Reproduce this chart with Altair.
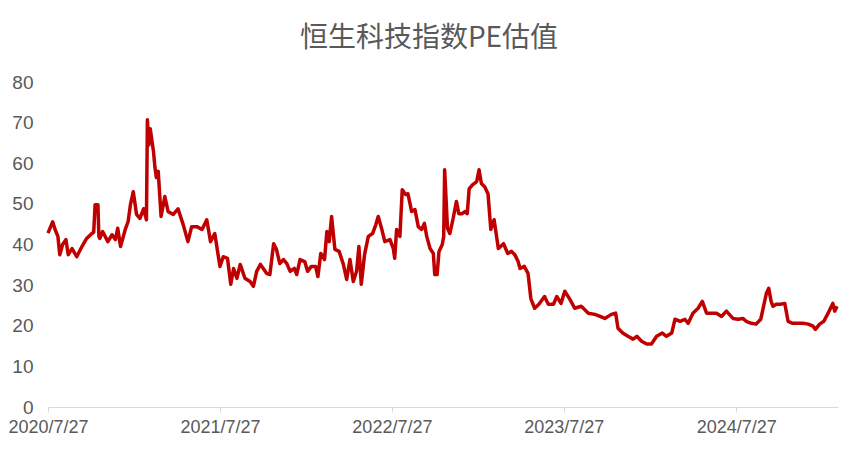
import altair as alt
import pandas as pd

title_text = "恒生科技指数PE估值"
start_date = "2020-07-27"
end_date = "2025-02-28"
tick_years = [2020, 2021, 2022, 2023, 2024]
y_ticks = [0, 10, 20, 30, 40, 50, 60, 70, 80]

# days after 2020-07-27
day_offsets = [
    0, 10, 15, 21, 25, 31, 38, 43, 51, 61,
    72, 82, 93, 97, 100, 106, 108, 110, 116, 127,
    136, 143, 148, 154, 164, 170, 175, 181, 188, 195,
    203, 209, 211, 214, 217, 224, 227, 230, 234, 240,
    248, 255, 266, 276, 287, 297, 305, 316, 327, 337,
    345, 354, 365, 372, 381, 388, 394, 401, 408, 418,
    429, 436, 443, 451, 464, 471, 479, 485, 492, 500,
    507, 514, 523, 528, 535, 545, 551, 559, 568, 573,
    579, 587, 592, 597, 602, 609, 618, 627, 634, 641,
    648, 655, 660, 665, 672, 680, 689, 696, 701, 708,
    715, 726, 733, 736, 740, 747, 752, 759, 764, 772,
    779, 786, 793, 799, 804, 811, 818, 821, 826, 830,
    837, 840, 842, 848, 853, 860, 867, 872, 879, 885,
    890, 894, 901, 910, 915, 920, 927, 934, 940, 947,
    956, 967, 976, 984, 991, 998, 1002, 1011, 1019, 1025,
    1033, 1042, 1054, 1062, 1073, 1080, 1089, 1097, 1108, 1118,
    1132, 1147, 1161, 1172, 1182, 1196, 1205, 1210, 1220, 1231,
    1242, 1250, 1260, 1271, 1281, 1292, 1304, 1313, 1324, 1331,
    1342, 1352, 1359, 1369, 1380, 1389, 1398, 1408, 1419, 1430,
    1440, 1454, 1465, 1475, 1482, 1493, 1503, 1513, 1520, 1525,
    1530, 1535, 1539, 1546, 1555, 1564, 1571, 1581, 1592, 1603,
    1614, 1624, 1629, 1638, 1647, 1656, 1661, 1666, 1670, 1675,
]

pe_values = [
    42.8, 45.6, 43.7, 42.0, 37.5, 40.0, 41.2, 37.5, 39.0, 37.0,
    39.5, 41.5, 42.7, 43.0, 49.8, 49.8, 42.0, 41.5, 43.2, 40.7,
    42.4, 41.2, 44.0, 39.5, 43.7, 45.6, 49.8, 53.0, 47.4, 46.4,
    48.8, 46.1, 70.7, 64.5, 68.5, 62.8, 59.0, 56.5, 58.0, 46.9,
    51.8, 48.1, 47.4, 48.8, 44.9, 40.7, 44.4, 44.4, 43.7, 46.1,
    40.7, 42.7, 34.6, 37.0, 36.6, 30.2, 34.1, 31.7, 35.1, 31.7,
    30.9, 29.7, 33.4, 35.1, 32.9, 32.6, 40.2, 38.8, 35.3, 36.3,
    35.3, 33.4, 34.1, 32.6, 36.3, 35.8, 33.4, 34.6, 34.6, 32.1,
    37.8, 36.3, 43.2, 40.7, 46.9, 38.8, 38.3, 35.1, 31.4, 36.3,
    30.9, 33.4, 39.5, 30.2, 37.5, 42.0, 42.7, 44.9, 46.9, 44.0,
    40.7, 41.2, 39.0, 36.6, 43.7, 42.0, 53.5, 52.3, 52.5, 48.1,
    48.6, 44.4, 43.7, 45.2, 42.0, 39.0, 37.8, 32.6, 32.6, 38.3,
    40.0, 42.0, 58.4, 44.0, 42.7, 46.4, 50.6, 47.6, 47.6, 48.1,
    47.6, 53.7, 54.7, 55.5, 58.4, 55.0, 54.2, 52.5, 43.7, 46.1,
    39.0, 40.2, 37.8, 38.3, 37.5, 35.8, 34.1, 34.6, 32.9, 26.7,
    24.3, 25.3, 27.2, 25.3, 25.3, 27.2, 25.5, 28.5, 26.5, 24.3,
    24.8, 23.1, 22.8, 22.3, 21.8, 22.8, 23.1, 19.4, 18.2, 17.4,
    16.7, 17.4, 16.2, 15.5, 15.5, 17.4, 18.2, 17.4, 18.2, 21.6,
    21.1, 21.6, 20.6, 23.1, 24.3, 26.0, 23.1, 23.1, 23.1, 22.3,
    23.6, 21.8, 21.6, 21.8, 21.1, 20.6, 20.4, 21.6, 25.3, 28.0,
    29.2, 26.0, 24.8, 25.3, 25.3, 25.5, 21.1, 20.6, 20.6, 20.6,
    20.4, 19.9, 19.1, 20.4, 21.1, 23.1, 24.3, 25.5, 23.6, 24.8,
]

dates = pd.Timestamp(start_date) + pd.to_timedelta(day_offsets, unit="D")
df = pd.DataFrame({"date": dates.strftime("%Y-%m-%dT00:00:00"), "pe": pe_values})

label_font = "Liberation Sans Narrow, Liberation Sans, sans-serif"
gray = "#595959"

x_enc = alt.X(
    "date:T",
    scale=alt.Scale(domain=[start_date + "T00:00:00", end_date + "T00:00:00"], nice=False),
    axis=alt.Axis(
        values=[alt.DateTime(year=y, month=7, date=27) for y in tick_years],
        format="%Y/%-m/%d",
        title=None,
        grid=False,
        domainColor="#d9d9d9",
        domainWidth=1,
        tickColor="#d9d9d9",
        tickSize=5,
        labelPadding=6,
        labelFont=label_font,
        labelFontSize=18,
        labelColor=gray,
        labelFlush=False,
        labelOverlap=False,
    ),
)

y_enc = alt.Y(
    "pe:Q",
    scale=alt.Scale(domain=[0, 80], nice=False),
    axis=alt.Axis(
        values=y_ticks,
        title=None,
        grid=False,
        domain=False,
        ticks=False,
        labelPadding=15,
        labelFont=label_font,
        labelFontSize=19,
        labelColor=gray,
    ),
)

chart = (
    alt.Chart(df)
    .mark_line(color="#C00000", strokeWidth=3.5, strokeJoin="round")
    .encode(x=x_enc, y=y_enc)
    .properties(
        width=790,
        height=325,
        autosize=alt.AutoSizeParams(type="none"),
        padding={"left": 40, "top": 74, "right": 15, "bottom": 35},
        title=alt.TitleParams(
            text=title_text,
            font="Noto Sans CJK SC",
            fontSize=28,
            fontWeight="normal",
            color=gray,
            anchor="middle",
            dx=-14,
            offset=20,
        ),
    )
    .configure_view(stroke=None)
)

chart.save("out.html", embed_options={"renderer": "svg", "actions": False})
